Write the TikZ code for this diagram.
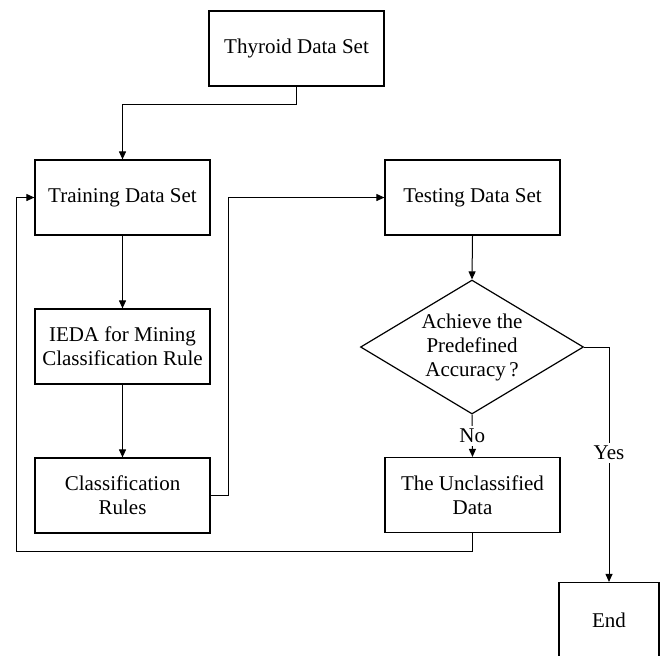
\documentclass[tikz,border=0pt]{standalone}
\usepackage{fontspec}
\setmainfont{Liberation Serif}
\usetikzlibrary{arrows.meta, shapes.geometric}

\begin{document}
\begin{tikzpicture}[x=0.5pt, y=0.5pt, font=\fontsize{10.5}{12}\selectfont,
	box/.style={draw, line width=0.6pt, rectangle, align=center, minimum width=87.5pt, minimum height=37.5pt, inner sep=0pt},
	decide/.style={draw, line width=0.6pt, diamond, aspect=1.66, align=center, minimum width=111.5pt, minimum height=67pt, inner sep=0pt},
	flow/.style={line width=0.5pt, -{Triangle[length=4pt, width=3.5pt]}},
	tag/.style={fill=white, inner sep=1.5pt}]

	% page size of the reference
	\useasboundingbox (0,0) rectangle (662,-655);

	% the boxes of the flow chart
	\node[box] (thyroid) at (296.5,-48.5) {Thyroid Data Set};
	\node[box] (train) at (122.5,-197.5) {Training Data Set};
	\node[box] (ieda) at (122.5,-346.5) {IEDA for Mining\\Classification Rule};
	\node[box] (rules) at (122.5,-495.5) {Classification\\Rules};
	\node[box] (test) at (472.5,-197.5) {Testing Data Set};
	\node[decide] (accuracy) at (472,-347) {Achieve the\\Predefined\\Accuracy\,?};
	\node[box] (unclass) at (472.5,-495) {The Unclassified\\Data};
	\node[box, minimum width=50pt] (end) at (609,-620) {End};

	% loop back to the training set
	\coordinate (back) at (16,-551);

	% connectors
	\draw[flow] (thyroid.south) -- ++(0,-18) -| (train.north);
	\draw[flow] (train.south) -- (ieda.north);
	\draw[flow] (ieda.south) -- (rules.north);
	\draw[flow] (rules.east) -- ++(18,0) |- (test.west);
	\draw[flow] (test.south) -- (accuracy.north);
	\draw[flow] (accuracy.south) -- (unclass.north) node[midway, tag] {No};
	\draw[flow] (unclass.south) |- (back) |- (train.west);
	\draw[flow] (accuracy.east) -| (end.north) node[pos=0.725, tag] {Yes};

\end{tikzpicture}
\end{document}
